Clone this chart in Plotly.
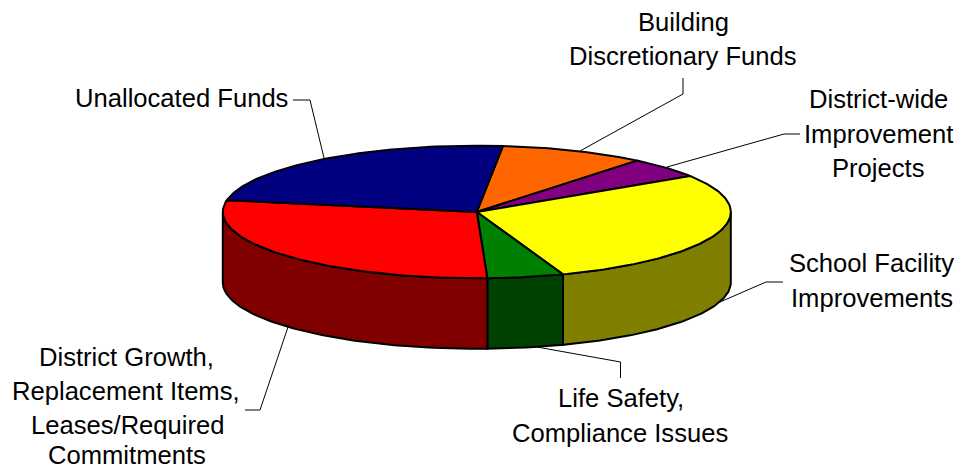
import numpy as np
import plotly.graph_objects as go

# Data: share of the budget per category (percent), clockwise from the first slice
categories = ["Building Discretionary Funds", "District-wide Improvement Projects",
              "School Facility Improvements", "Life Safety, Compliance Issues",
              "District Growth, Replacement Items, Leases/Required Commitments",
              "Unallocated Funds"]
shares = [9.25, 5.0, 28.6, 4.85, 28.5, 23.8]
top_colors = ["#FF6600", "#800080", "#FFFF00", "#008000", "#FF0000", "#000080"]
wall_colors = ["#803300", "#400040", "#808000", "#004000", "#800000", "#000040"]

# Pie geometry (pixel space of the page)
W, H = 961, 471
CX, CY, RX, RY, DEPTH = 476.8, 212, 254, 66.3, 70.5
START = 5.9
LW = 2


def rim(deg):
    a = np.radians(deg)
    return CX + RX * np.sin(a), CY - RY * np.cos(a)


edges = START + np.concatenate([[0], np.cumsum(shares)]) * 3.6
fig = go.Figure()

# Side walls: only the front half of the rim (90..270 degrees) is visible
for i in range(len(shares)):
    a0, a1 = max(edges[i], 90), min(edges[i + 1], 270)
    if a1 <= a0:
        continue
    t = np.linspace(a0, a1, max(int(a1 - a0), 2))
    x, y = rim(t)
    fig.add_trace(go.Scatter(
        x=np.concatenate([x, x[::-1], x[:1]]),
        y=np.concatenate([y, y[::-1] + DEPTH, y[:1]]),
        mode="lines", fill="toself", fillcolor=wall_colors[i],
        line=dict(color="black", width=LW), hoverinfo="skip", showlegend=False))

# Top faces
for i, name in enumerate(categories):
    t = np.linspace(edges[i], edges[i + 1], max(int(edges[i + 1] - edges[i]), 2))
    x, y = rim(t)
    fig.add_trace(go.Scatter(
        x=np.concatenate([[CX], x, [CX]]),
        y=np.concatenate([[CY], y, [CY]]),
        mode="lines", fill="toself", fillcolor=top_colors[i],
        line=dict(color="black", width=LW), name=name,
        hoverinfo="name", showlegend=False))

# Leader lines (layout furniture, pixel positions)
leaders = [
    ([683, 683, 580], [78, 94, 151]),
    ([800, 784, 667], [134, 134, 167]),
    ([783, 766, 720], [282, 282, 302]),
    ([620.5, 620.5, 537], [378, 362, 347]),
    ([245, 260, 288], [410, 410, 327]),
    ([293, 310, 324], [100, 100, 158]),
]
for lx, ly in leaders:
    fig.add_trace(go.Scatter(x=lx, y=ly, mode="lines",
                             line=dict(color="black", width=1),
                             hoverinfo="skip", showlegend=False))

# Labels, one per line
label_lines = [
    ("Building", 683, 22, "center"),
    ("Discretionary Funds", 683, 56, "center"),
    ("District-wide", 878, 99, "center"),
    ("Improvement", 878, 134, "center"),
    ("Projects", 878, 168, "center"),
    ("School Facility", 871, 263, "center"),
    ("Improvements", 872, 298, "center"),
    ("Life Safety,", 621, 398, "center"),
    ("Compliance Issues", 620, 433, "center"),
    ("District Growth,", 126, 357, "center"),
    ("Replacement Items,", 126, 391, "center"),
    ("Leases/Required", 128, 425, "center"),
    ("Commitments", 127, 455, "center"),
    ("Unallocated Funds", 289, 98, "right"),
]
for text, x, y, anchor in label_lines:
    fig.add_annotation(x=x, y=y, text=text, showarrow=False, xanchor=anchor,
                       yanchor="middle", xref="x", yref="y", borderpad=0,
                       font=dict(family="Liberation Sans", size=25.6, color="black"))

fig.update_layout(
    width=W, height=H, margin=dict(l=0, r=0, t=0, b=0),
    paper_bgcolor="white", plot_bgcolor="white", showlegend=False,
    xaxis=dict(range=[0, W], visible=False, fixedrange=True),
    yaxis=dict(range=[H, 0], visible=False, fixedrange=True),
)
fig.write_html("out.html", config={"displayModeBar": False},
               post_script="document.body.style.margin='0';document.body.style.overflow='hidden';")
